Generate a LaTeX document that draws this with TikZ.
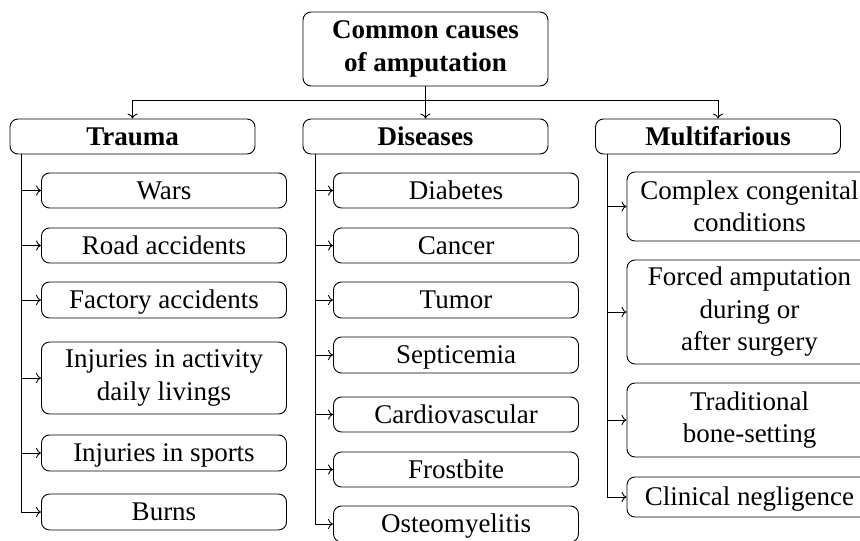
\documentclass[tikz,border=0pt]{standalone}
\usepackage{fontspec}
\setmainfont{Liberation Serif}
\usetikzlibrary{arrows.meta}
\begin{document}
\begin{tikzpicture}[x=1pt,y=-1pt,
  box/.style={draw, rounded corners=8pt, minimum width=245pt, inner sep=0pt,
    align=center, font=\fontsize{27}{32.5}\selectfont, line width=0.9pt},
  oneline/.style={text height=18.5pt, text depth=1pt},
  one/.style={box, oneline},
  head/.style={box, oneline, font=\fontsize{27}{32.5}\selectfont\bfseries},
  conn/.style={line width=0.9pt, -{To[length=5pt,width=10pt]}}
]
\useasboundingbox (0,0) rectangle (860,541);
\clip (0,0) rectangle (860,541);
% root and heads
\node[box, font=\fontsize{27}{32.5}\selectfont\bfseries, minimum height=74pt] (root) at (425.5,49) {Common causes\\of amputation};
\node[head, minimum height=35pt] (trauma) at (132.5,136.5) {Trauma};
\node[head, minimum height=35pt] (dis) at (425.5,136.5) {Diseases};
\node[head, minimum height=35pt] (mult) at (718,136.5) {Multifarious};
\draw[conn] (root.south) -- (dis.north);
\draw[conn] (root.south) -- ++(0,14) -| (trauma.north);
\draw[conn] (root.south) -- ++(0,14) -| (mult.north);
% trauma children
\node[one, minimum height=35pt] (t1) at (164,190.5) {Wars};
\node[one, minimum height=35pt] (t2) at (164,245.5) {Road accidents};
\node[one, minimum height=36pt] (t3) at (164,300) {Factory accidents};
\node[box, minimum height=72pt] (t4) at (164,378) {Injuries in activity\\daily livings};
\node[one, minimum height=36pt] (t5) at (164,453) {Injuries in sports};
\node[one, minimum height=36pt] (t6) at (164,512) {Burns};
\foreach \n in {t1,t2,t3,t4,t5,t6}
  \draw[conn] ([xshift=12pt]trauma.south west) |- (\n.west);
% disease children
\node[one, minimum height=35pt] (d1) at (456,190.5) {Diabetes};
\node[one, minimum height=35pt] (d2) at (456,245.5) {Cancer};
\node[one, minimum height=36pt] (d3) at (456,300) {Tumor};
\node[one, minimum height=36pt] (d4) at (456,355) {Septicemia};
\node[one, minimum height=35pt] (d5) at (456,414.5) {Cardiovascular};
\node[one, minimum height=35pt] (d6) at (456,469.5) {Frostbite};
\node[one, minimum height=36pt] (d7) at (456,524) {Osteomyelitis};
\foreach \n in {d1,d2,d3,d4,d5,d6,d7}
  \draw[conn] ([xshift=12.5pt]dis.south west) |- (\n.west);
% multifarious children
\node[box, minimum height=69pt] (m1) at (749.5,206.5) {Complex congenital\\conditions};
\node[box, minimum height=104pt] (m2) at (749.5,312) {Forced amputation\\during or\\after surgery};
\node[box, minimum height=74pt] (m3) at (749.5,420) {Traditional\\bone-setting};
\node[one, minimum height=40pt] (m4) at (749.5,497) {Clinical negligence};
\foreach \n in {m1,m2,m3,m4}
  \draw[conn] ([xshift=12pt]mult.south west) |- (\n.west);
\end{tikzpicture}
\end{document}
